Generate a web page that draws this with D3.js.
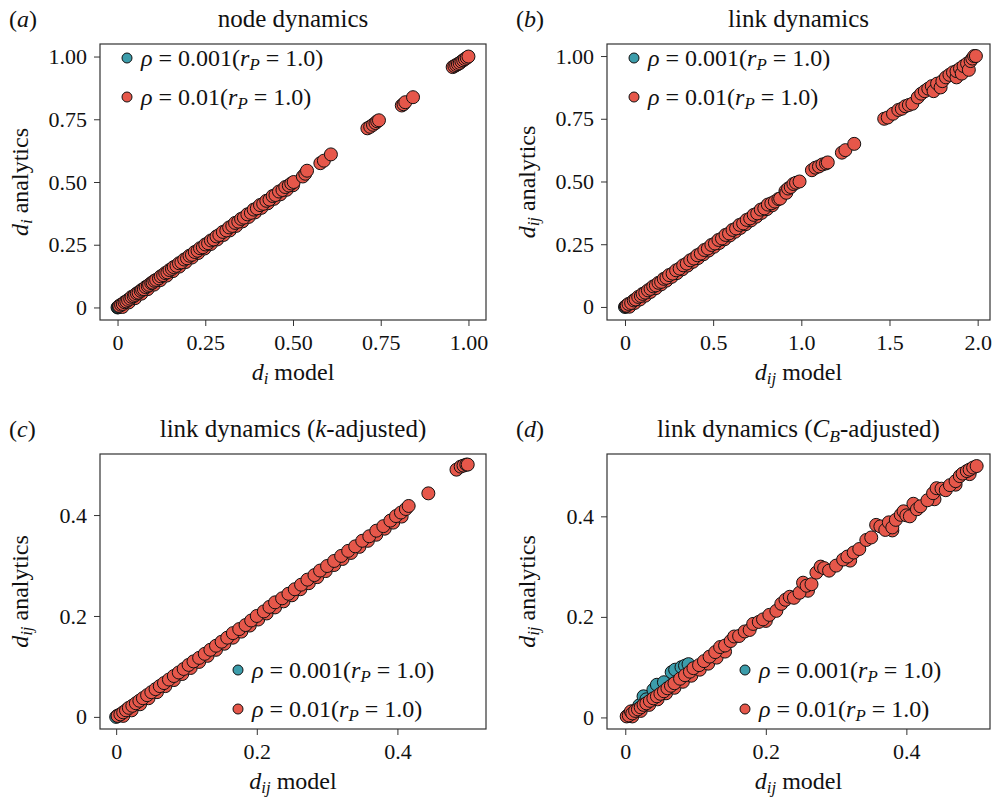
<!DOCTYPE html>
<html>
<head>
<meta charset="utf-8">
<script src="https://cdn.jsdelivr.net/npm/d3@7"></script>
<style>
  body { margin: 0; background: #fff; }
  svg { display: block; }
  text { font-family: "Liberation Serif", "Times New Roman", serif; fill: #111; }
</style>
</head>
<body>
<div id="chart"></div>
<script>
// colours of the two densities
const tealColor = '#3c9dab';
const redColor = '#e6574a';

// (a) node dynamics: [d_i model, d_i analytics]
const nodeTeal = [[0, 0], [0.002, 0.001], [0.004, 0.003], [0.006, 0.005]];
const nodeRedUnder = [
  [0.014, 0.002], [0.032, 0.02], [0.05, 0.037], [0.068, 0.055], [0.086, 0.073], [0.104, 0.091],
  [0.122, 0.109], [0.14, 0.127], [0.158, 0.145], [0.176, 0.163], [0.194, 0.181], [0.212, 0.199],
  [0.23, 0.217], [0.248, 0.235], [0.266, 0.253], [0.284, 0.271], [0.302, 0.289], [0.32, 0.307],
  [0.338, 0.325], [0.356, 0.343], [0.374, 0.361], [0.392, 0.379], [0.41, 0.397], [0.428, 0.415],
  [0.446, 0.433], [0.464, 0.451], [0.482, 0.469], [0.5, 0.487]
];
const nodeRed = [
  [0.005, 0.006], [0.01, 0.011], [0.015, 0.014], [0.02, 0.021], [0.025, 0.024], [0.03, 0.03],
  [0.036, 0.035], [0.04, 0.042], [0.046, 0.045], [0.05, 0.05], [0.055, 0.056], [0.06, 0.059],
  [0.066, 0.066], [0.07, 0.071], [0.075, 0.073], [0.08, 0.081], [0.086, 0.085], [0.09, 0.09],
  [0.096, 0.097], [0.1, 0.099], [0.105, 0.106], [0.11, 0.11], [0.118, 0.116], [0.123, 0.124],
  [0.13, 0.129], [0.136, 0.137], [0.142, 0.14], [0.148, 0.149], [0.155, 0.154], [0.16, 0.161],
  [0.168, 0.166], [0.175, 0.176], [0.182, 0.18], [0.19, 0.191], [0.198, 0.196], [0.205, 0.206],
  [0.212, 0.21], [0.22, 0.221], [0.228, 0.226], [0.235, 0.236], [0.243, 0.24], [0.25, 0.251],
  [0.258, 0.256], [0.266, 0.267], [0.274, 0.271], [0.282, 0.283], [0.29, 0.289], [0.3, 0.301],
  [0.31, 0.307], [0.318, 0.319], [0.327, 0.325], [0.335, 0.337], [0.344, 0.342], [0.352, 0.353],
  [0.36, 0.358], [0.37, 0.371], [0.38, 0.377], [0.388, 0.39], [0.397, 0.395], [0.406, 0.408],
  [0.415, 0.413], [0.424, 0.425], [0.433, 0.43], [0.442, 0.444], [0.45, 0.448], [0.46, 0.462],
  [0.47, 0.468], [0.478, 0.48], [0.488, 0.486], [0.495, 0.494], [0.502, 0.5],
  [0.528, 0.522], [0.535, 0.533], [0.54, 0.545], [0.578, 0.575], [0.588, 0.585], [0.608, 0.61],
  [0.712, 0.714], [0.72, 0.72], [0.728, 0.728], [0.735, 0.735], [0.74, 0.742], [0.745, 0.746],
  [0.81, 0.805], [0.815, 0.81], [0.82, 0.818], [0.842, 0.838],
  [0.955, 0.958], [0.96, 0.962], [0.965, 0.966], [0.97, 0.97], [0.975, 0.974], [0.98, 0.98],
  [0.985, 0.985], [0.99, 0.99], [0.995, 0.995], [1.0, 1.0]
];

// (b) link dynamics: [d_ij model, d_ij analytics]
const linkTeal = [[0, 0], [0.005, 0.002], [0.01, 0.005], [0.015, 0.007]];
const linkRedUnder = [
  [0.025, 0.001], [0.055, 0.016], [0.085, 0.03], [0.115, 0.045], [0.145, 0.06], [0.175, 0.075],
  [0.205, 0.09], [0.235, 0.105], [0.265, 0.12], [0.295, 0.135], [0.325, 0.15], [0.355, 0.165],
  [0.385, 0.18], [0.415, 0.195], [0.445, 0.21], [0.475, 0.225], [0.505, 0.24], [0.535, 0.255],
  [0.565, 0.27], [0.595, 0.285], [0.625, 0.3], [0.655, 0.315], [0.685, 0.33], [0.715, 0.345],
  [0.745, 0.36], [0.775, 0.375], [0.805, 0.39], [0.835, 0.405]
];
const linkRed = [
  [0.005, 0.003], [0.01, 0.005], [0.02, 0.012], [0.035, 0.016], [0.05, 0.026], [0.06, 0.03],
  [0.075, 0.04], [0.09, 0.044], [0.1, 0.052], [0.115, 0.057], [0.13, 0.066], [0.145, 0.072],
  [0.16, 0.082], [0.175, 0.086], [0.19, 0.096], [0.205, 0.1], [0.22, 0.112], [0.235, 0.116],
  [0.25, 0.127], [0.27, 0.133], [0.29, 0.146], [0.31, 0.153], [0.33, 0.166], [0.35, 0.173],
  [0.37, 0.186], [0.39, 0.193], [0.41, 0.206], [0.43, 0.213], [0.45, 0.227], [0.47, 0.233],
  [0.49, 0.247], [0.51, 0.253], [0.53, 0.267], [0.55, 0.273], [0.57, 0.287], [0.59, 0.293],
  [0.61, 0.307], [0.63, 0.313], [0.65, 0.327], [0.67, 0.333], [0.69, 0.347], [0.71, 0.353],
  [0.73, 0.367], [0.75, 0.373], [0.77, 0.388], [0.79, 0.393], [0.81, 0.408], [0.83, 0.413],
  [0.85, 0.42], [0.87, 0.43], [0.88, 0.432], [0.91, 0.462], [0.915, 0.455], [0.925, 0.472],
  [0.94, 0.478], [0.955, 0.49], [0.97, 0.495], [0.99, 0.5],
  [1.06, 0.545], [1.08, 0.555], [1.1, 0.56], [1.12, 0.568], [1.14, 0.572], [1.15, 0.576],
  [1.23, 0.615], [1.25, 0.625], [1.3, 0.65],
  [1.47, 0.75], [1.49, 0.755], [1.52, 0.77], [1.55, 0.785], [1.57, 0.79], [1.59, 0.8],
  [1.61, 0.805], [1.63, 0.81],
  [1.66, 0.835], [1.68, 0.85], [1.7, 0.86], [1.72, 0.87], [1.74, 0.88], [1.75, 0.86],
  [1.77, 0.89], [1.79, 0.875], [1.8, 0.9], [1.82, 0.915],
  [1.84, 0.925], [1.86, 0.935], [1.88, 0.915], [1.88, 0.94], [1.9, 0.95], [1.91, 0.93],
  [1.92, 0.96], [1.94, 0.97], [1.95, 0.945], [1.96, 0.98], [1.97, 0.99], [1.98, 1.0], [1.99, 1.0]
];

// (c) link dynamics, k-adjusted
const kTeal = [[0, 0], [0.002, 0.002], [0.004, 0.003]];
const kRedUnder = [
  [0.01, 0.002], [0.022, 0.013], [0.034, 0.025], [0.046, 0.037], [0.058, 0.049], [0.07, 0.061],
  [0.082, 0.073], [0.094, 0.085], [0.106, 0.097], [0.118, 0.109], [0.13, 0.121], [0.142, 0.133],
  [0.154, 0.145], [0.166, 0.157], [0.178, 0.169], [0.19, 0.181], [0.202, 0.193], [0.214, 0.205],
  [0.226, 0.217], [0.238, 0.229], [0.25, 0.241], [0.262, 0.253], [0.274, 0.265], [0.286, 0.277],
  [0.298, 0.289], [0.31, 0.301], [0.322, 0.313], [0.334, 0.325], [0.346, 0.337], [0.358, 0.349],
  [0.37, 0.361], [0.382, 0.373], [0.394, 0.385], [0.406, 0.397]
];
const kRed = [
  [0.002, 0.002], [0.006, 0.005], [0.01, 0.009], [0.014, 0.013], [0.018, 0.018], [0.023, 0.022],
  [0.028, 0.027], [0.033, 0.032], [0.038, 0.037], [0.044, 0.043], [0.05, 0.049], [0.056, 0.055],
  [0.062, 0.061], [0.068, 0.067], [0.075, 0.074], [0.082, 0.081], [0.089, 0.088], [0.096, 0.095],
  [0.103, 0.103], [0.11, 0.11], [0.118, 0.117], [0.126, 0.125], [0.134, 0.133], [0.142, 0.141],
  [0.15, 0.149], [0.158, 0.157], [0.166, 0.166], [0.175, 0.174], [0.184, 0.182], [0.192, 0.191],
  [0.2, 0.2], [0.21, 0.209], [0.218, 0.218], [0.226, 0.227], [0.236, 0.235], [0.245, 0.244],
  [0.254, 0.253], [0.263, 0.262], [0.272, 0.272], [0.282, 0.281], [0.29, 0.29], [0.3, 0.299],
  [0.31, 0.309], [0.32, 0.319], [0.33, 0.329], [0.34, 0.338], [0.35, 0.349], [0.36, 0.358],
  [0.37, 0.369], [0.38, 0.378], [0.39, 0.389], [0.398, 0.398], [0.405, 0.405], [0.412, 0.412],
  [0.416, 0.418], [0.444, 0.443], [0.484, 0.49], [0.49, 0.496], [0.494, 0.498], [0.498, 0.5],
  [0.5, 0.5]
];

// (d) link dynamics, C_B-adjusted
const cbTeal = [
  [0.003, 0.003], [0.01, 0.012], [0.02, 0.024], [0.026, 0.042], [0.03, 0.036], [0.04, 0.055],
  [0.045, 0.065], [0.055, 0.07], [0.066, 0.09], [0.071, 0.095], [0.08, 0.1], [0.085, 0.103],
  [0.09, 0.106]
];
const cbRedUnder = [
  [0.01, 0.002], [0.022, 0.013], [0.034, 0.025], [0.046, 0.036], [0.058, 0.048], [0.07, 0.059],
  [0.082, 0.071], [0.094, 0.083], [0.106, 0.095], [0.118, 0.107], [0.13, 0.119], [0.142, 0.131],
  [0.2, 0.192], [0.26, 0.252], [0.32, 0.312], [0.38, 0.372], [0.44, 0.434], [0.47, 0.463],
  [0.49, 0.484]
];
const cbRed = [
  [0.002, 0.002], [0.005, 0.004], [0.008, 0.012], [0.01, 0.008], [0.014, 0.013], [0.018, 0.016],
  [0.022, 0.02], [0.026, 0.025], [0.03, 0.028], [0.035, 0.033], [0.04, 0.038], [0.045, 0.042],
  [0.05, 0.047], [0.055, 0.052], [0.06, 0.058], [0.065, 0.063], [0.07, 0.068], [0.078, 0.077],
  [0.085, 0.084], [0.092, 0.091], [0.097, 0.098], [0.105, 0.104], [0.112, 0.112], [0.12, 0.121],
  [0.128, 0.13], [0.135, 0.14], [0.142, 0.143], [0.15, 0.152], [0.155, 0.161], [0.162, 0.162],
  [0.17, 0.171], [0.177, 0.174], [0.182, 0.186], [0.19, 0.19], [0.196, 0.195], [0.205, 0.204],
  [0.215, 0.212], [0.222, 0.226], [0.228, 0.234], [0.234, 0.24], [0.24, 0.238], [0.248, 0.248],
  [0.253, 0.268], [0.258, 0.262], [0.265, 0.265], [0.272, 0.288], [0.278, 0.3], [0.283, 0.297],
  [0.29, 0.292], [0.3, 0.302], [0.31, 0.314], [0.316, 0.32], [0.325, 0.328], [0.333, 0.335],
  [0.343, 0.353], [0.35, 0.358], [0.357, 0.383], [0.363, 0.38], [0.37, 0.373], [0.375, 0.388],
  [0.38, 0.378], [0.385, 0.393], [0.392, 0.403], [0.396, 0.41], [0.4, 0.402], [0.405, 0.4],
  [0.41, 0.425], [0.415, 0.414], [0.42, 0.42], [0.43, 0.432], [0.438, 0.446], [0.443, 0.456],
  [0.45, 0.455], [0.456, 0.452], [0.462, 0.462], [0.47, 0.47], [0.476, 0.48], [0.48, 0.485],
  [0.486, 0.49], [0.49, 0.493], [0.495, 0.497], [0.5, 0.5]
];

// tick labels
const ticksUnit = [0, 0.25, 0.5, 0.75, 1];
const ticksUnitLabels = ['0', '0.25', '0.50', '0.75', '1.00'];
const ticksTwo = [0, 0.5, 1, 1.5, 2];
const ticksTwoLabels = ['0', '0.5', '1.0', '1.5', '2.0'];
const ticksHalf = [0, 0.2, 0.4];
const ticksHalfLabels = ['0', '0.2', '0.4'];

const legendNames = [
  { rho: '0.001', color: tealColor },
  { rho: '0.01', color: redColor }
];

const W = 997, H = 803;
const svg = d3.select('#chart').append('svg').attr('width', W).attr('height', H);

const panels = [
  {
    tag: 'a', title: [{ t: 'node dynamics' }], box: [100, 486, 44, 320],
    xDom: [-0.05, 1.05], yDom: [-0.05, 1.05],
    xt: ticksUnit, xtl: ticksUnitLabels, yt: ticksUnit, ytl: ticksUnitLabels,
    sub: 'i', teal: nodeTeal, red: nodeRedUnder.concat(nodeRed), legend: 'top'
  },
  {
    tag: 'b', title: [{ t: 'link dynamics' }], box: [607, 990, 44, 320],
    xDom: [-0.102, 2.07], yDom: [-0.052, 1.048],
    xt: ticksTwo, xtl: ticksTwoLabels, yt: ticksUnit, ytl: ticksUnitLabels,
    sub: 'ij', teal: linkTeal, red: linkRedUnder.concat(linkRed), legend: 'top'
  },
  {
    tag: 'c', title: [{ t: 'link dynamics (' }, { t: 'k', it: true }, { t: '-adjusted)' }],
    box: [100, 486, 454, 729],
    xDom: [-0.023, 0.526], yDom: [-0.024, 0.521],
    xt: ticksHalf, xtl: ticksHalfLabels, yt: ticksHalf, ytl: ticksHalfLabels,
    sub: 'ij', teal: kTeal, red: kRedUnder.concat(kRed), legend: 'bottom'
  },
  {
    tag: 'd', title: [{ t: 'link dynamics (' }, { t: 'C', it: true }, { t: 'B', it: true, sub: true }, { t: '-adjusted)' }],
    box: [607, 990, 454, 729],
    xDom: [-0.026, 0.519], yDom: [-0.023, 0.524],
    xt: ticksHalf, xtl: ticksHalfLabels, yt: ticksHalf, ytl: ticksHalfLabels,
    sub: 'ij', teal: cbTeal, red: cbRedUnder.concat(cbRed), legend: 'bottom'
  }
];

function addRich(sel, parts, size) {
  parts.forEach(p => {
    const ts = sel.append('tspan').text(p.t);
    if (p.it) ts.style('font-style', 'italic');
    if (p.sub) ts.attr('baseline-shift', '-25%').attr('font-size', size * 0.7);
  });
}

panels.forEach(p => {
  const [x0, x1, y0, y1] = p.box;
  const x = d3.scaleLinear().domain(p.xDom).range([x0, x1]);
  const y = d3.scaleLinear().domain(p.yDom).range([y1, y0]);
  const g = svg.append('g');

  // points: teal underneath, red on top
  [[p.teal, tealColor], [p.red, redColor]].forEach(([pts, col]) => {
    g.append('g').selectAll('circle')
      .data(pts)
      .join('circle')
      .attr('cx', d => x(d[0]))
      .attr('cy', d => y(d[1]))
      .attr('r', 6.5)
      .attr('fill', col)
      .attr('stroke', '#111')
      .attr('stroke-width', 1);
  });

  // frame
  g.append('rect')
    .attr('x', x0).attr('y', y0)
    .attr('width', x1 - x0).attr('height', y1 - y0)
    .attr('fill', 'none').attr('stroke', '#333').attr('stroke-width', 1.2);

  const xAxis = g.append('g')
    .attr('transform', `translate(0,${y1})`)
    .call(d3.axisBottom(x).tickValues(p.xt).tickSize(6).tickPadding(8)
      .tickFormat((d, i) => p.xtl[i]));
  const yAxis = g.append('g')
    .attr('transform', `translate(${x0},0)`)
    .call(d3.axisLeft(y).tickValues(p.yt).tickSize(6).tickPadding(7)
      .tickFormat((d, i) => p.ytl[i]));
  [xAxis, yAxis].forEach(a => {
    a.select('.domain').remove();
    a.selectAll('line').attr('stroke', '#333');
    a.selectAll('text').attr('font-size', 22).attr('font-family', '"Liberation Serif", serif').attr('fill', '#111');
  });

  // title
  const cx = (x0 + x1) / 2;
  const title = g.append('text').attr('x', cx).attr('y', y0 - 17)
    .attr('text-anchor', 'middle').attr('font-size', 25);
  addRich(title, p.title, 25);

  // panel tag
  const tag = g.append('text').attr('x', x0 - 91).attr('y', y0 - 17).attr('font-size', 24);
  addRich(tag, [{ t: '(' }, { t: p.tag, it: true }, { t: ')' }], 24);

  // axis labels
  const xl = g.append('text').attr('x', cx).attr('y', y1 + 60)
    .attr('text-anchor', 'middle').attr('font-size', 24);
  addRich(xl, [{ t: 'd', it: true }, { t: p.sub, it: true, sub: true }, { t: ' model' }], 24);

  const yl = g.append('text')
    .attr('transform', `translate(${x0 - 72},${(y0 + y1) / 2}) rotate(-90)`)
    .attr('text-anchor', 'middle').attr('font-size', 24);
  addRich(yl, [{ t: 'd', it: true }, { t: p.sub, it: true, sub: true }, { t: ' analytics' }], 24);

  // legend
  const lx = p.legend === 'top' ? x0 + 27 : x0 + 138;
  const ly = p.legend === 'top' ? y0 + 14 : y0 + 216;
  legendNames.forEach((l, i) => {
    const yy = ly + i * 39;
    g.append('circle').attr('cx', lx).attr('cy', yy).attr('r', 5)
      .attr('fill', l.color).attr('stroke', '#111').attr('stroke-width', 1);
    const t = g.append('text').attr('x', lx + 14).attr('y', yy + 8).attr('font-size', 24);
    addRich(t, [
      { t: 'ρ', it: true }, { t: ' = ' + l.rho + '(' }, { t: 'r', it: true },
      { t: 'P', it: true, sub: true }, { t: ' = 1.0)' }
    ], 24);
  });
});
</script>
</body>
</html>
